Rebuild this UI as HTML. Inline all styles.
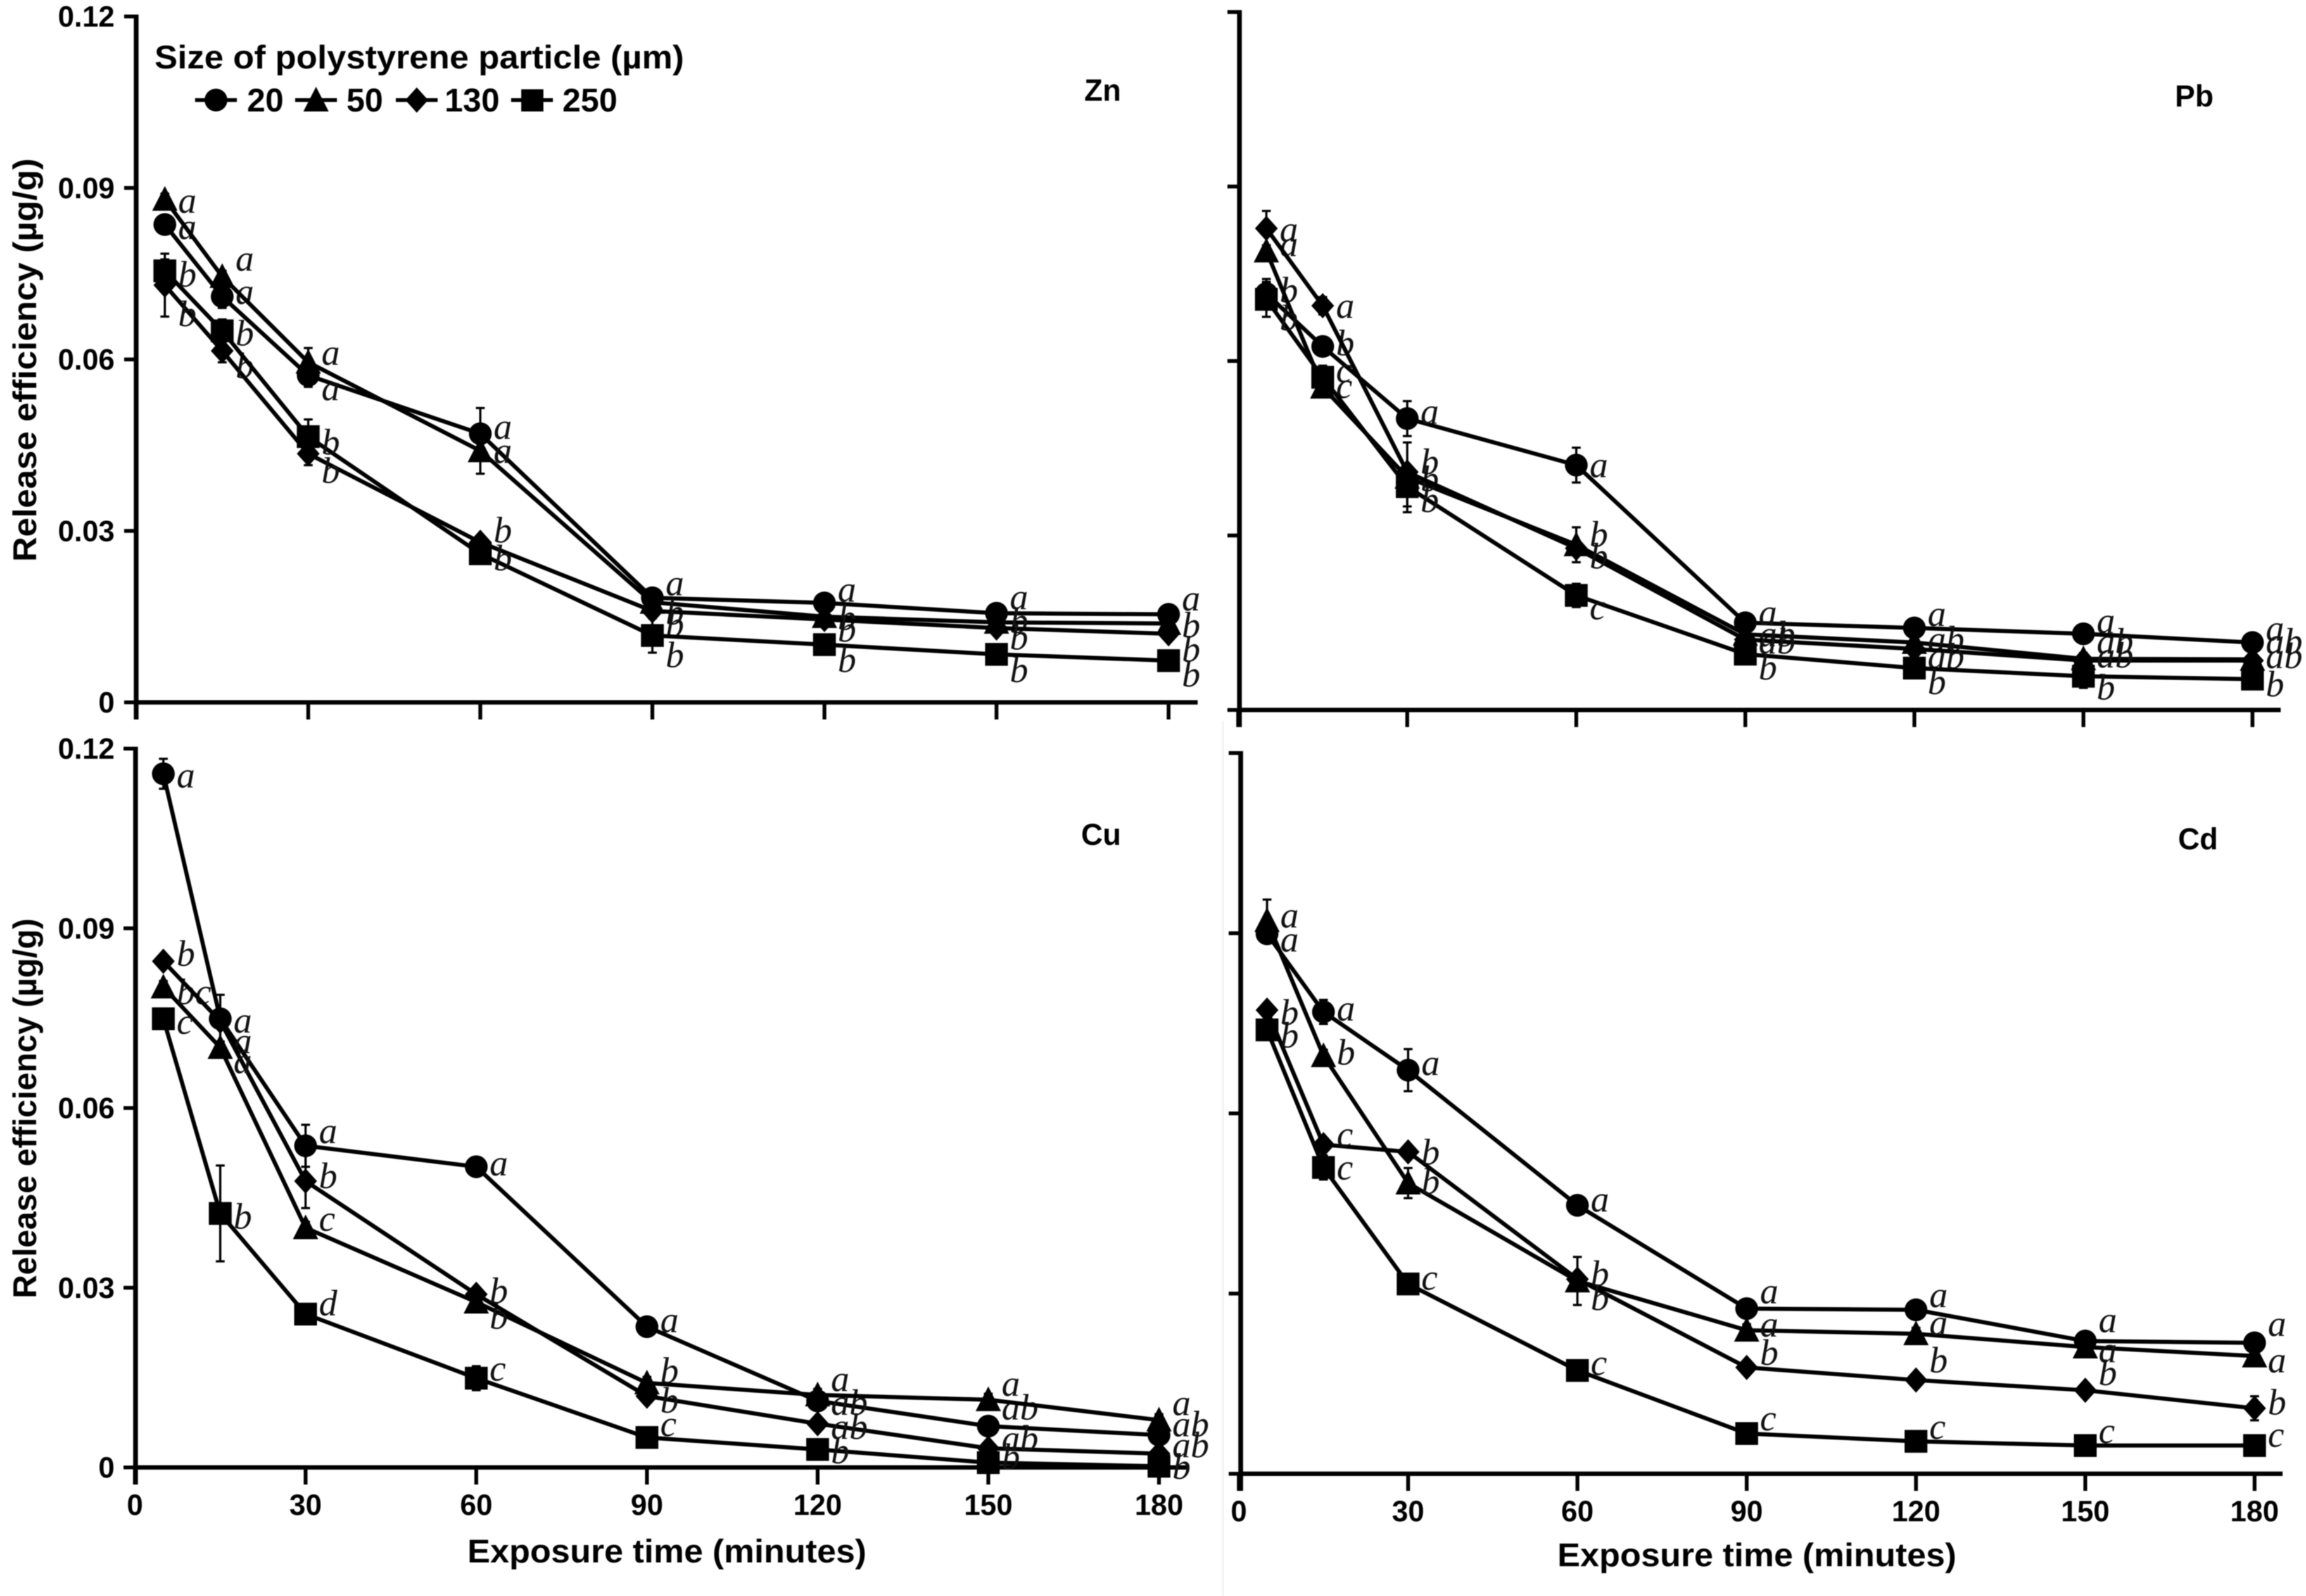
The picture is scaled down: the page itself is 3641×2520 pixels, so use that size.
<!DOCTYPE html>
<html>
<head>
<meta charset="utf-8">
<title>Release efficiency of heavy metals by polystyrene particle size</title>
<style>
html,body{margin:0;padding:0;background:#fff;width:3641px;height:2520px;overflow:hidden}
svg{display:block;filter:blur(0.9px)}
.sans{font-family:"Liberation Sans",Arial,sans-serif;font-weight:bold;fill:#000}
.let{font-family:"Liberation Serif","Times New Roman",serif;font-style:italic;font-weight:normal;font-size:58px;fill:#111}
</style>
</head>
<body>
<svg id="chart" xmlns="http://www.w3.org/2000/svg" width="3641" height="2520" viewBox="0 0 3641 2520">
  <rect x="0" y="0" width="3641" height="2520" fill="#fff"/>
  <line x1="1931" y1="1138" x2="1931" y2="2520" stroke="#ececec" stroke-width="2"/>

  <g>
    <text class="sans" x="244" y="108" font-size="52" textLength="836" lengthAdjust="spacingAndGlyphs">Size of polystyrene particle (µm)</text>
    <g>
      <line x1="308" y1="158" x2="374" y2="158" stroke="#000" stroke-width="6"/>
      <circle cx="341" cy="158" r="18" fill="#000"/>
      <text class="sans" x="390" y="176" font-size="52">20</text>
    </g>
    <g>
      <line x1="466" y1="158" x2="532" y2="158" stroke="#000" stroke-width="6"/>
      <polygon points="499,137 519,176 479,176" fill="#000"/>
      <text class="sans" x="547" y="176" font-size="52">50</text>
    </g>
    <g>
      <line x1="625" y1="158" x2="691" y2="158" stroke="#000" stroke-width="6"/>
      <polygon points="658,138 676,158 658,178 640,158" fill="#000"/>
      <text class="sans" x="702" y="176" font-size="52">130</text>
    </g>
    <g>
      <line x1="807" y1="158" x2="873" y2="158" stroke="#000" stroke-width="6"/>
      <rect x="823" y="141" width="35" height="35" fill="#000"/>
      <text class="sans" x="888" y="176" font-size="52">250</text>
    </g>
  </g>

  <text class="sans" x="1712" y="159" font-size="48" textLength="58" lengthAdjust="spacingAndGlyphs">Zn</text>
  <text class="sans" x="3434" y="168" font-size="48" textLength="61" lengthAdjust="spacingAndGlyphs">Pb</text>
  <text class="sans" x="1707" y="1334" font-size="48" textLength="63" lengthAdjust="spacingAndGlyphs">Cu</text>
  <text class="sans" x="3439" y="1341" font-size="48" textLength="63" lengthAdjust="spacingAndGlyphs">Cd</text>

  <text class="sans" transform="translate(57,887) rotate(-90)" font-size="52" textLength="637" lengthAdjust="spacingAndGlyphs">Release efficiency (µg/g)</text>
  <text class="sans" transform="translate(57,2050) rotate(-90)" font-size="52" textLength="600" lengthAdjust="spacingAndGlyphs">Release efficiency (µg/g)</text>
  <text class="sans" x="738" y="2467" font-size="52" textLength="630" lengthAdjust="spacingAndGlyphs">Exposure time (minutes)</text>
  <text class="sans" x="2459" y="2473" font-size="52" textLength="630" lengthAdjust="spacingAndGlyphs">Exposure time (minutes)</text>
</svg>

<script>
// ---- shared categories and tick labels ----
const times = [5, 15, 30, 60, 90, 120, 150, 180];
const particleSizes = [20, 50, 130, 250];
const xTickValues = [0, 30, 60, 90, 120, 150, 180];
const yTickValues = [0, 0.03, 0.06, 0.09, 0.12];
const yTickLabels = ['0', '0.03', '0.06', '0.09', '0.12'];

// ---- Zn ----
const znSize20 = [0.0836, 0.0710, 0.0572, 0.0470, 0.0183, 0.0174, 0.0156, 0.0154];
const znSize50 = [0.0880, 0.0745, 0.0595, 0.0440, 0.0175, 0.0150, 0.0140, 0.0138];
const znSize130 = [0.0730, 0.0615, 0.0435, 0.0280, 0.0160, 0.0145, 0.0130, 0.0120];
const znSize250 = [0.0755, 0.0650, 0.0465, 0.0260, 0.0117, 0.0101, 0.0084, 0.0073];
const znErr20 = [0.001, 0.002, 0.002, 0.0045, 0.001, 0.001, 0.001, 0.001];
const znErr50 = [0.001, 0.001, 0.0025, 0.004, 0.001, 0.001, 0.001, 0.001];
const znErr130 = [0.0055, 0.002, 0.002, 0.001, 0.001, 0.001, 0.001, 0.001];
const znErr250 = [0.002, 0.002, 0.003, 0.001, 0.003, 0.001, 0.001, 0.001];
const znLet20 = ['a', 'a', 'a', 'a', 'a', 'a', 'a', 'a'];
const znLet50 = ['a', 'a', 'a', 'a', 'b', 'b', 'b', 'b'];
const znLet130 = ['b', 'b', 'b', 'b', 'b', 'b', 'b', 'b'];
const znLet250 = ['b', 'b', 'b', 'b', 'b', 'b', 'b', 'b'];

// ---- Pb ----
const pbSize20 = [0.0716, 0.0625, 0.0501, 0.0421, 0.0150, 0.0141, 0.0131, 0.0116];
const pbSize50 = [0.0789, 0.0555, 0.0400, 0.0284, 0.0130, 0.0116, 0.0088, 0.0087];
const pbSize130 = [0.0828, 0.0695, 0.0409, 0.0278, 0.0121, 0.0105, 0.0085, 0.0085];
const pbSize250 = [0.0706, 0.0572, 0.0384, 0.0197, 0.0096, 0.0072, 0.0058, 0.0053];
const pbErr20 = [0.0025, 0.001, 0.003, 0.003, 0.001, 0.001, 0.001, 0.001];
const pbErr50 = [0.001, 0.001, 0.006, 0.003, 0.001, 0.001, 0.001, 0.001];
const pbErr130 = [0.003, 0.0015, 0.001, 0.001, 0.001, 0.001, 0.001, 0.001];
const pbErr250 = [0.003, 0.002, 0.0034, 0.002, 0.001, 0.001, 0.002, 0.001];
const pbLet20 = ['b', 'b', 'a', 'a', 'a', 'a', 'a', 'a'];
const pbLet50 = ['a', 'c', 'b', 'b', 'ab', 'ab', 'ab', 'ab'];
const pbLet130 = ['a', 'a', 'b', 'b', 'ab', 'ab', 'ab', 'ab'];
const pbLet250 = ['b', 'c', 'b', 'c', 'b', 'b', 'b', 'b'];

// ---- Cu ----
const cuSize20 = [0.1158, 0.0749, 0.0537, 0.0502, 0.0235, 0.0111, 0.0069, 0.0054];
const cuSize50 = [0.0802, 0.0701, 0.0400, 0.0276, 0.0141, 0.0121, 0.0113, 0.0079];
const cuSize130 = [0.0845, 0.0745, 0.0478, 0.0289, 0.0119, 0.0073, 0.0032, 0.0023];
const cuSize250 = [0.0749, 0.0424, 0.0256, 0.0149, 0.0050, 0.0030, 0.0008, 0.0002];
const cuErr20 = [0.0025, 0.004, 0.0035, 0.001, 0.001, 0.001, 0.001, 0.001];
const cuErr50 = [0.001, 0.001, 0.001, 0.001, 0.001, 0.001, 0.001, 0.001];
const cuErr130 = [0.001, 0.001, 0.0045, 0.001, 0.001, 0.001, 0.001, 0.001];
const cuErr250 = [0.001, 0.008, 0.0015, 0.002, 0.001, 0.001, 0.001, 0.001];
const cuLet20 = ['a', 'a', 'a', 'a', 'a', 'ab', 'ab', 'ab'];
const cuLet50 = ['bc', 'a', 'c', 'b', 'b', 'a', 'a', 'a'];
const cuLet130 = ['b', 'a', 'b', 'b', 'b', 'ab', 'ab', 'ab'];
const cuLet250 = ['c', 'b', 'd', 'c', 'c', 'b', 'b', 'b'];

// ---- Cd ----
const cdSize20 = [0.0899, 0.0769, 0.0672, 0.0447, 0.0275, 0.0273, 0.0221, 0.0218];
const cdSize50 = [0.0921, 0.0696, 0.0484, 0.0321, 0.0239, 0.0233, 0.0211, 0.0196];
const cdSize130 = [0.0772, 0.0548, 0.0536, 0.0324, 0.0177, 0.0156, 0.0139, 0.0109];
const cdSize250 = [0.0739, 0.0510, 0.0316, 0.0172, 0.0067, 0.0054, 0.0047, 0.0047];
const cdErr20 = [0.001, 0.002, 0.0035, 0.001, 0.001, 0.001, 0.001, 0.001];
const cdErr50 = [0.0035, 0.001, 0.0025, 0.004, 0.001, 0.001, 0.001, 0.001];
const cdErr130 = [0.001, 0.001, 0.001, 0.001, 0.001, 0.001, 0.001, 0.002];
const cdErr250 = [0.001, 0.002, 0.001, 0.001, 0.001, 0.001, 0.001, 0.001];
const cdLet20 = ['a', 'a', 'a', 'a', 'a', 'a', 'a', 'a'];
const cdLet50 = ['a', 'b', 'b', 'b', 'a', 'a', 'a', 'a'];
const cdLet130 = ['b', 'c', 'b', 'b', 'b', 'b', 'b', 'b'];
const cdLet250 = ['b', 'c', 'c', 'c', 'c', 'c', 'c', 'c'];

// ---- layout only: panel frames and letter nudges in pixels ----
const panels = [
  {key:'zn', axisX:215, x0:215, pxPerMin:9.056, y0:1109, yTop:26, xEnd:1891, showX:false, showY:true, xLabelY:0,
   series:[znSize20, znSize50, znSize130, znSize250], errs:[znErr20, znErr50, znErr130, znErr250], lets:[znLet20, znLet50, znLet130, znLet250],
   nudges:[[9,-2,25,-6,-18,-16,-20,-20],[7,-23,-10,5,21,7,3,8],[51,29,32,-14,27,21,20,30],[11,9,14,12,36,29,30,27]]},
  {key:'pb', axisX:1957, x0:1955, pxPerMin:8.897, y0:1121, yTop:19, xEnd:3601, showX:false, showY:false, xLabelY:0,
   series:[pbSize20, pbSize50, pbSize130, pbSize250], errs:[pbErr20, pbErr50, pbErr130, pbErr250], lets:[pbLet20, pbLet50, pbLet130, pbLet250],
   nudges:[[0,0,-6,5,-11,-17,-15,-17],[-6,3,8,-11,5,0,-22,-23],[7,5,-11,18,8,17,-3,-2],[35,-6,26,24,26,27,23,13]]},
  {key:'cu', axisX:214, x0:213, pxPerMin:8.983, y0:2317, yTop:1182, xEnd:1876, showX:true, showY:true, xLabelY:2392,
   series:[cuSize20, cuSize50, cuSize130, cuSize250], errs:[cuErr20, cuErr50, cuErr130, cuErr250], lets:[cuLet20, cuLet50, cuLet130, cuLet250],
   nudges:[[8,8,-18,0,-5,8,-24,-12],[13,-5,-9,28,-14,-20,-20,-22],[-7,68,-3,0,12,10,-10,-8],[10,10,-12,-10,-16,8,-4,6]]},
  {key:'cd', axisX:1959, x0:1956, pxPerMin:8.91, y0:2327, yTop:1189, xEnd:3604, showX:true, showY:false, xLabelY:2402,
   series:[cdSize20, cdSize50, cdSize130, cdSize250], errs:[cdErr20, cdErr50, cdErr130, cdErr250], lets:[cdLet20, cdLet50, cdLet130, cdLet250],
   nudges:[[14,0,-6,-4,-22,-18,-28,-25],[-3,0,3,-6,-4,-12,10,12],[9,-11,6,35,-18,-26,-22,-4],[14,5,-5,-7,-19,-18,-18,-12]]}
];

const SVG_NS = 'http://www.w3.org/2000/svg';
const root = document.getElementById('chart');

function make(tag, attrs, parent) {
  const node = document.createElementNS(SVG_NS, tag);
  for (const k in attrs) node.setAttribute(k, attrs[k]);
  parent.appendChild(node);
  return node;
}
function xScale(p, t) { return p.x0 + t * p.pxPerMin; }
function yScale(p, v) { return p.y0 - (v / 0.12) * (p.y0 - p.yTop); }

function drawMarker(kind, x, y, parent) {
  let m;
  if (kind === 0) m = make('ellipse', {cx:x, cy:y, rx:18, ry:18, fill:'#000'}, parent);
  if (kind === 1) m = make('polygon', {points:[x, y-21, x+20, y+18, x-20, y+18].join(','), fill:'#000'}, parent);
  if (kind === 2) m = make('polygon', {points:[x, y-20, x+18, y, x, y+20, x-18, y].join(','), fill:'#000'}, parent);
  if (kind === 3) m = make('rect', {x:x-18, y:y-18, width:36, height:36, fill:'#000'}, parent);
  
  
}

panels.forEach(function (p) {
  const g = make('g', {}, root);
  
  

  const yAxis = make('line', {x1:p.axisX, y1:p.yTop - 3, x2:p.axisX, y2:p.y0 + 27, stroke:'#000', 'stroke-width':7.5}, g);
  
  

  const xAxis = make('line', {x1:p.axisX, y1:p.y0, x2:p.xEnd, y2:p.y0, stroke:'#000', 'stroke-width':7}, g);
  
  

  yTickValues.forEach(function (v, i) {
    const yy = yScale(p, v);
    const tick = make('line', {x1:p.axisX - 19, y1:yy, x2:p.axisX, y2:yy, stroke:'#000', 'stroke-width':6}, g);
    
    
    if (p.showY) {
      const lab = make('text', {'class':'sans', 'font-size':46, 'text-anchor':'end', x:181, y:yy + 16}, g);
      lab.textContent = yTickLabels[i];
      
      
    }
  });

  xTickValues.forEach(function (t) {
    const xx = xScale(p, t);
    const tick = make('line', {x1:xx, y1:p.y0, x2:xx, y2:p.y0 + 27, stroke:'#000', 'stroke-width':6}, g);
    
    
    if (p.showX) {
      const lab = make('text', {'class':'sans', 'font-size':46, 'text-anchor':'middle', x:xx, y:p.xLabelY}, g);
      lab.textContent = String(t);
      
      
    }
  });

  p.series.forEach(function (vals, s) {
    const sg = make('g', {}, g);
    
    

    const pts = vals.map(function (v, i) { return xScale(p, times[i]) + ',' + yScale(p, v); }).join(' ');
    const path = make('polyline', {points:pts, fill:'none', stroke:'#000', 'stroke-width':6.5, 'stroke-linejoin':'round'}, sg);
    
    

    vals.forEach(function (v, i) {
      const xx = xScale(p, times[i]);
      const yy = yScale(p, v);
      const hi = yScale(p, v + p.errs[s][i]);
      const lo = yScale(p, v - p.errs[s][i]);
      const bar = make('path', {d:'M' + xx + ' ' + hi + 'V' + lo + 'M' + (xx - 7) + ' ' + hi + 'H' + (xx + 7) + 'M' + (xx - 7) + ' ' + lo + 'H' + (xx + 7), fill:'none', stroke:'#000', 'stroke-width':3.5}, sg);
      
      

      drawMarker(s, xx, yy, sg);

      const lt = make('text', {'class':'let', x:xx + 21, y:yy + p.nudges[s][i] + 14}, sg);
      lt.textContent = p.lets[s][i];
      
      
    });
  });
});
</script>
</body>
</html>
